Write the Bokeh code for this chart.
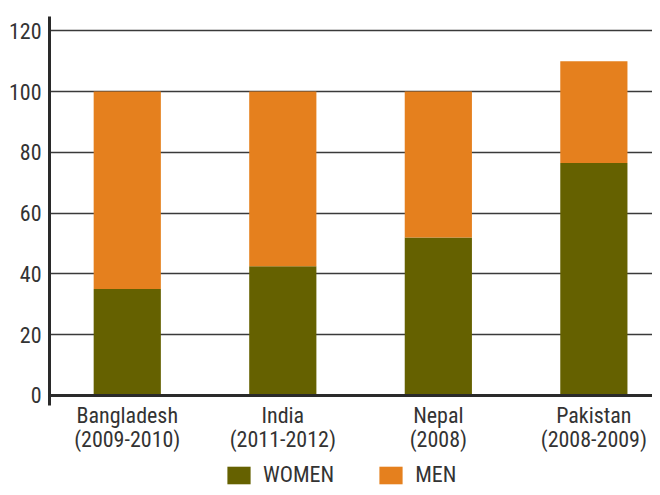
from bokeh.plotting import figure
from bokeh.models import ColumnDataSource, FixedTicker, Span, Range1d, Legend, LegendItem
from bokeh.layouts import column
from bokeh.embed import file_html
from bokeh.resources import INLINE

categories = ["Bangladesh\n(2009-2010)", "India\n(2011-2012)", "Nepal\n(2008)", "Pakistan\n(2008-2009)"]
positions = [0, 1, 2, 3]
women = [35, 42.5, 52, 76.5]
men = [65, 57.5, 48, 33.5]
y_ticks = [0, 20, 40, 60, 80, 100, 120]
series_labels = ["WOMEN", "MEN"]
series_colors = ["#656100", "#E5801E"]

FONT = "Roboto Condensed"
TXT = "#333333"

source = ColumnDataSource(dict(x=positions, women=women, men=men))

p = figure(width=652, height=455, output_backend="svg", toolbar_location=None,
           x_range=Range1d(-0.5, 3.377), y_range=Range1d(-3.3, 124.7),
           min_border_left=49, min_border_right=0, min_border_top=16, min_border_bottom=50)
p.outline_line_color = None

rs = p.vbar_stack(["women", "men"], x="x", width=0.432, source=source,
                  color=series_colors, line_color=None)

p.xgrid.grid_line_color = None
p.ygrid.grid_line_color = "#3a3a3a"
p.ygrid.grid_line_width = 1.5
p.ygrid.ticker = FixedTicker(ticks=y_ticks)

p.yaxis.ticker = FixedTicker(ticks=y_ticks)
p.yaxis.axis_line_width = 3
p.yaxis.axis_line_color = "#2a2a2a"
p.yaxis.major_tick_line_color = None
p.yaxis.minor_tick_line_color = None
p.yaxis.major_tick_out = 0
p.yaxis.minor_tick_out = 0
p.yaxis.major_label_standoff = 8
p.yaxis.major_label_text_font = FONT
p.yaxis.major_label_text_font_size = "22px"
p.yaxis.major_label_text_color = TXT

p.xaxis.ticker = FixedTicker(ticks=positions)
p.xaxis.major_label_overrides = {pos: lab for pos, lab in zip(positions, categories)}
p.xaxis.axis_line_color = None
p.xaxis.major_tick_line_color = None
p.xaxis.minor_tick_line_color = None
p.xaxis.major_tick_out = 0
p.xaxis.minor_tick_out = 0
p.xaxis.major_label_standoff = -3
p.xaxis.major_label_text_font = FONT
p.xaxis.major_label_text_font_size = "22px"
p.xaxis.major_label_text_color = TXT
p.xaxis.major_label_text_line_height = 0.98

zero = Span(location=0, dimension="width", line_color="#2a2a2a", line_width=3)
p.add_layout(zero)

# legend in its own strip below the chart (its renderers are hidden; only the legend shows)
lf = figure(width=652, height=32, output_backend="svg", toolbar_location=None,
            x_range=Range1d(-0.5, 3.377), y_range=Range1d(1000, 1001),
            x_axis_type=None, y_axis_type=None,
            min_border_left=0, min_border_right=0, min_border_top=0, min_border_bottom=0)
lf.outline_line_color = None
lf.grid.grid_line_color = None
lrs = lf.vbar_stack(["women", "men"], x="x", width=0.432, source=source,
                    color=series_colors, line_color=None)
for r in lrs:
    r.visible = False
items = [LegendItem(label=lab, renderers=[r]) for lab, r in zip(series_labels, lrs)]

legend = Legend(items=items, orientation="horizontal", location=(175, 0),
                glyph_width=29, glyph_height=22, label_standoff=10, spacing=42,
                padding=0, margin=0, border_line_color=None, background_fill_alpha=0,
                label_text_font=FONT, label_text_font_size="22px",
                label_text_color=TXT, click_policy="none")
lf.add_layout(legend, "center")

layout = column(p, lf, spacing=0)
open("out.html", "w").write(file_html(layout, INLINE))
